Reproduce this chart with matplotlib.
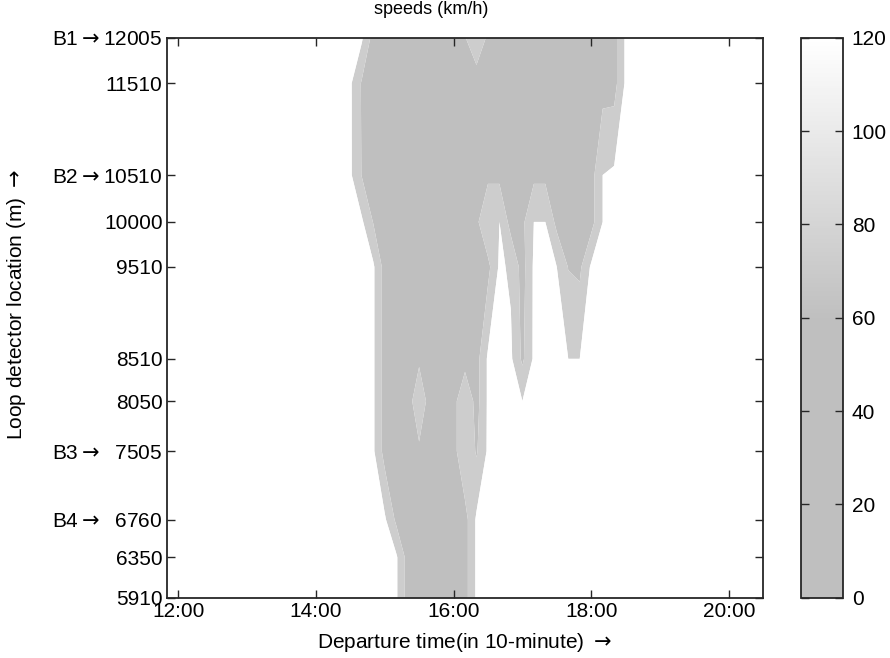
import numpy as np
import matplotlib
matplotlib.use("Agg")
import matplotlib.pyplot as plt
from matplotlib.colors import LinearSegmentedColormap, Normalize
from matplotlib.cm import ScalarMappable

plt.rcParams['font.family'] = ['Liberation Sans', 'DejaVu Sans']
plt.rcParams['mathtext.fontset'] = 'dejavusans'

ARROW = r'$\rightarrow$'

# detector positions (m), bottom to top
locations = [5910, 6350, 6760, 7505, 8050, 8510, 9510, 10000, 10510, 11510, 12005]
loc_labels = ['5910', '6350', 'B4' + ARROW + '  6760', 'B3' + ARROW + '  7505', '8050',
              '8510', '9510', '10000', 'B2' + ARROW + '10510', '11510', 'B1' + ARROW + '12005']

# departure slots, 10-minute index since midnight (71 = 11:50 ... 123 = 20:30)
slots = list(range(71, 124))
window_start = 86          # first slot stored in the table below (14:20)
free_speed = 100           # free-flow speed outside the stored window

# speeds (km/h) per detector for slots 86..112 (14:20 .. 18:40)
speeds = [
    [100, 100, 100, 100, 100, 100, 20, 20, 20, 20, 20, 20, 100, 100, 100, 100, 100, 100, 100, 100, 100, 100, 100, 100, 100, 100, 100],
    [100, 100, 100, 100, 100, 100, 20, 20, 20, 20, 20, 20, 100, 100, 100, 100, 100, 100, 100, 100, 100, 100, 100, 100, 100, 100, 100],
    [100, 100, 100, 100, 100, 30, 20, 20, 20, 20, 20, 20, 100, 100, 100, 100, 100, 100, 100, 100, 100, 100, 100, 100, 100, 100, 100],
    [100, 100, 100, 100, 20, 20, 20, 33, 20, 20, 20, 90, 34, 100, 100, 100, 100, 100, 100, 100, 100, 100, 100, 100, 100, 100, 100],
    [100, 100, 100, 100, 20, 20, 20, 70, 20, 20, 20, 90, 20, 100, 100, 100, 92, 100, 100, 100, 100, 100, 100, 100, 100, 100, 100],
    [100, 100, 100, 100, 20, 20, 20, 33, 20, 20, 20, 18, 20, 100, 100, 100, 30, 100, 100, 100, 92, 92, 100, 100, 100, 100, 100],
    [100, 100, 100, 100, 20, 20, 20, 20, 20, 20, 20, 20, 20, 25, 100, 85, 20, 100, 100, 92, 38, 30, 100, 100, 100, 100, 100],
    [100, 100, 100, 38, 20, 20, 20, 20, 20, 20, 20, 20, 28, 92, 92, 20, 28, 92, 92, 25, 20, 20, 20, 92, 100, 100, 100],
    [100, 100, 38, 20, 20, 20, 20, 20, 20, 20, 20, 20, 20, 28, 28, 20, 20, 28, 28, 20, 20, 20, 20, 92, 100, 100, 100],
    [100, 100, 35, 20, 20, 20, 20, 20, 20, 20, 20, 20, 10, 20, 20, 20, 20, 20, 20, 20, 20, 20, 20, 20, 20, 100, 100],
    [100, 100, 100, 20, 20, 20, 20, 20, 20, 20, 20, 37, 85, 30, 20, 20, 20, 20, 20, 20, 20, 20, 20, 20, 20, 100, 100],
]

# contour bands: congested / transition / free
levels = [0, 40, 92, 200]
band_colors = ['#bfbfbf', '#cdcdcd', '#ffffff']

tick_slots = [72, 84, 96, 108, 120]
tick_labels = ['12:00', '14:00', '16:00', '18:00', '20:00']

# pad the stored window out to the full slot range
Z = np.array(speeds, dtype=float)
left = window_start - slots[0]
right = slots[-1] - (window_start + Z.shape[1] - 1)
Z = np.pad(Z, ((0, 0), (left, right)), constant_values=free_speed)
X, Y = np.meshgrid(slots, locations)

fig = plt.figure(figsize=(8.9, 6.58), dpi=100)
ax = fig.add_axes([166.7 / 890, 1 - 597.7 / 658, 596.6 / 890, 560 / 658])
cax = fig.add_axes([800.7 / 890, 1 - 597.7 / 658, 42.6 / 890, 560 / 658])

ax.contourf(X, Y, Z, levels=levels, colors=band_colors, antialiased=True)

ax.set_xlim(71, 123)
ax.set_ylim(locations[0], locations[-1])
ax.set_xticks(tick_slots)
ax.set_xticklabels(tick_labels)
ax.set_yticks(locations)
ax.set_yticklabels(loc_labels)

for side in ax.spines.values():
    side.set_linewidth(1.3)
    side.set_color('#262626')
ax.tick_params(direction='in', length=6, width=1, top=True, right=True,
               labelsize=15, colors='#262626', labelcolor='black', pad=3)

ax.set_xlabel('Departure time(in 10-minute) ' + ARROW, fontsize=15)
ax.xaxis.set_label_coords(0.5, -0.06)
ax.set_ylabel('Loop detector location (m) ' + ARROW, fontsize=15)
ax.yaxis.set_label_coords(-0.232, 0.523)

fig.text(431 / 890, 1 - 10 / 658, 'speeds (km/h)', ha='center', va='center', fontsize=13)

# colour scale: flat grey up to 60 km/h, then fading to white at 120
cmap = LinearSegmentedColormap.from_list(
    'speedgray', [(0.0, (0.75, 0.75, 0.75)), (0.5, (0.75, 0.75, 0.75)), (1.0, (1.0, 1.0, 1.0))])
sm = ScalarMappable(norm=Normalize(0, 120), cmap=cmap)
cb = fig.colorbar(sm, cax=cax, ticks=[0, 20, 40, 60, 80, 100, 120])
cb.outline.set_linewidth(1.3)
cb.outline.set_edgecolor('#262626')
cax.yaxis.set_ticks_position('both')
cax.yaxis.set_label_position('right')
cax.tick_params(direction='in', length=6, width=1, left=True, right=True,
                labelleft=False, labelright=True,
                labelsize=15, colors='#262626', labelcolor='black', pad=6)

fig.savefig('out.png', dpi=100)
